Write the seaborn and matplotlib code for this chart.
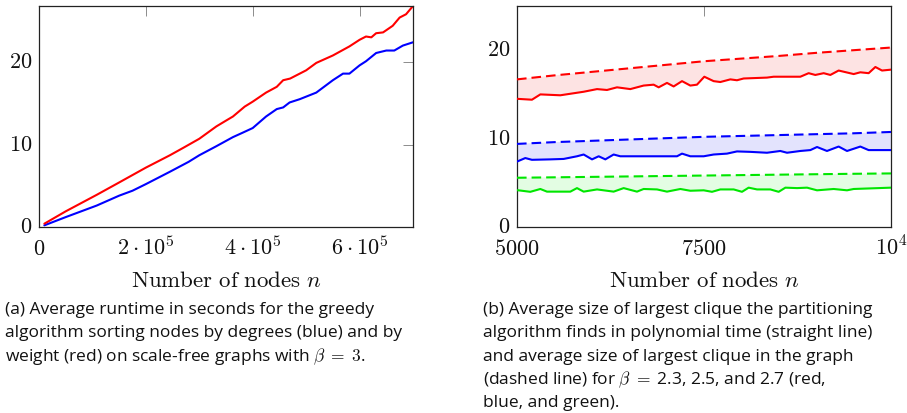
import numpy as np
import pandas as pd
import matplotlib
matplotlib.use("Agg")
import matplotlib.pyplot as plt
import seaborn as sns

# ---------------- data ----------------
# (a) runtime in seconds, n in thousands
a_red_n = [10, 50, 108, 150, 200, 245, 270, 300, 332, 350, 363, 385, 400, 425, 445, 457,
           470, 488, 500, 519, 550, 581, 600, 612, 622, 631, 644, 662, 675, 687, 700]
a_red_t = [0.4, 1.9, 3.9, 5.4, 7.2, 8.7, 9.6, 10.7, 12.2, 12.9, 13.4, 14.6, 15.2, 16.3, 17.0, 17.8,
           18.0, 18.6, 19.0, 19.9, 20.8, 21.9, 22.7, 23.1, 23.0, 23.5, 23.6, 24.4, 25.4, 25.8, 26.8]
a_blue_n = [10, 50, 108, 150, 175, 200, 245, 280, 300, 332, 363, 380, 400, 425, 445, 457,
            469, 488, 519, 550, 569, 581, 600, 612, 631, 650, 665, 681, 700]
a_blue_t = [0.2, 1.2, 2.6, 3.8, 4.4, 5.2, 6.7, 7.9, 8.7, 9.8, 10.9, 11.4, 12.0, 13.4, 14.3, 14.5,
            15.1, 15.5, 16.3, 17.8, 18.6, 18.6, 19.6, 20.1, 21.1, 21.4, 21.4, 22.0, 22.4]
a_xticks = [0, 200000, 400000, 600000]
a_xticklabels = [r"$0$", r"$2\cdot10^5$", r"$4\cdot10^5$", r"$6\cdot10^5$"]
a_yticks = [0, 10, 20]

# (b) clique sizes
b_red_n = [5000, 5200, 5312, 5579, 5891, 6070, 6203, 6337, 6515, 6693, 6827, 6894, 7005, 7094,
           7206, 7317, 7406, 7504, 7629, 7718, 7852, 7941, 8030, 8342, 8431, 8788, 8899, 8988,
           9100, 9189, 9300, 9501, 9590, 9701, 9791, 9880, 10000]
b_red_solid = [14.5, 14.4, 15.0, 14.9, 15.3, 15.6, 15.5, 15.8, 15.6, 16.0, 16.1, 15.8, 16.3, 15.9,
               16.5, 16.0, 16.1, 17.0, 16.5, 16.4, 16.7, 16.6, 16.8, 16.9, 17.0, 17.0, 17.4, 17.2,
               17.4, 17.2, 17.7, 17.3, 17.5, 17.4, 18.1, 17.7, 17.8]
b_blue_n = [5000, 5111, 5200, 5446, 5624, 5802, 5891, 6003, 6092, 6181, 6292, 6381, 7139, 7206,
            7317, 7496, 7629, 7807, 7941, 8119, 8342, 8520, 8610, 8788, 8922, 9011, 9144, 9300,
            9412, 9590, 9701, 10000]
b_blue_solid = [7.4, 7.8, 7.6, 7.65, 7.7, 8.0, 8.2, 7.65, 8.0, 7.65, 8.2, 8.0, 8.0, 8.3,
                8.0, 8.0, 8.2, 8.3, 8.55, 8.5, 8.4, 8.6, 8.4, 8.6, 8.7, 9.05, 8.6, 9.1,
                8.6, 9.1, 8.7, 8.7]
b_green_n = [5000, 5178, 5312, 5401, 5713, 5802, 5891, 6070, 6292, 6426, 6604, 6693, 6872, 7005,
             7184, 7317, 7496, 7607, 7718, 7897, 8008, 8097, 8209, 8387, 8498, 8588, 8744, 8878,
             9011, 9234, 9412, 9501, 10000]
b_green_solid = [4.17, 3.98, 4.3, 4.0, 4.0, 4.4, 4.0, 4.25, 4.0, 4.4, 4.0, 4.3, 4.25, 4.0,
                 4.3, 4.1, 4.15, 3.98, 4.25, 4.25, 3.98, 4.45, 4.25, 4.25, 3.98, 4.45, 4.4, 4.45,
                 4.15, 4.3, 4.15, 4.3, 4.45]
b_dash_n = [5000, 5500, 6000, 6500, 7000, 7500, 8000, 8500, 9000, 9500, 10000]
b_red_dash = [16.7, 17.15, 17.55, 17.95, 18.35, 18.75, 19.05, 19.35, 19.7, 20.0, 20.3]
b_blue_dash = [9.4, 9.6, 9.75, 9.9, 10.05, 10.2, 10.3, 10.4, 10.5, 10.6, 10.75]
b_green_dash = [5.57, 5.62, 5.67, 5.72, 5.77, 5.82, 5.87, 5.92, 5.97, 6.02, 6.06]
b_xticks = [5000, 7500, 10000]
b_xticklabels = [r"$5000$", r"$7500$", r"$10^4$"]
b_yticks = [0, 10, 20]

caption_a = ["(a) Average runtime in seconds for the greedy",
             "algorithm sorting nodes by degrees (blue) and by",
             r"weight (red) on scale-free graphs with $\beta\;=\;3$."]
caption_b = ["(b) Average size of largest clique the partitioning",
             "algorithm finds in polynomial time (straight line)",
             "and average size of largest clique in the graph",
             r"(dashed line) for $\beta\;=\;$2.3, 2.5, and 2.7 (red,",
             "blue, and green)."]

# ---------------- style ----------------
sns.set_theme(style="white")
plt.rcParams["mathtext.fontset"] = "cm"
plt.rcParams["font.family"] = ["DejaVu Serif"]

RED, BLUE, GREEN = "#ff0000", "#0000ff", "#00e600"
LW = 1.5
FS_TICK = 16
FS_LAB = 16.5

W, H = 907, 413
fig = plt.figure(figsize=(W / 100, H / 100), dpi=100)

def px_axes(x0, x1, y0, y1):
    return fig.add_axes([x0 / W, 1 - y1 / H, (x1 - x0) / W, (y1 - y0) / H])

axA = px_axes(39, 413, 6, 227)
axB = px_axes(517, 891, 6, 227)

# panel (a)
dfa_r = pd.DataFrame({"n": np.array(a_red_n) * 1000, "t": a_red_t})
dfa_b = pd.DataFrame({"n": np.array(a_blue_n) * 1000, "t": a_blue_t})
sns.lineplot(data=dfa_b, x="n", y="t", color=BLUE, lw=LW, ax=axA, solid_joinstyle="round")
sns.lineplot(data=dfa_r, x="n", y="t", color=RED, lw=LW, ax=axA, solid_joinstyle="round")
axA.set_xlim(0, 700000)
axA.set_ylim(0, 26.8)
axA.set_xticks(a_xticks)
axA.set_xticklabels(a_xticklabels)
axA.set_yticks(a_yticks)
axA.set_yticklabels([f"${v}$" for v in a_yticks])

# panel (b)
series = [(b_red_n, b_red_solid, b_red_dash, RED, "#fde3e3"),
          (b_blue_n, b_blue_solid, b_blue_dash, BLUE, "#e3e3fd"),
          (b_green_n, b_green_solid, b_green_dash, GREEN, "#e3fde3")]
for xs, ys, yd, col, fcol in series:
    poly_x = np.r_[np.array(xs, float), np.array(b_dash_n, float)[::-1]]
    poly_y = np.r_[np.array(ys, float), np.array(yd, float)[::-1]]
    axB.fill(poly_x, poly_y, color=fcol, lw=0, zorder=1)
    sns.lineplot(x=xs, y=ys, color=col, lw=LW, ax=axB, zorder=3, solid_joinstyle="round")
    sns.lineplot(x=b_dash_n, y=yd, color=col, lw=LW, ax=axB, zorder=3,
                 linestyle=(0, (4.6, 2.4)))
axB.set_xlim(5000, 10000)
axB.set_ylim(0, 25)
axB.set_xticks(b_xticks)
axB.set_xticklabels(b_xticklabels)
axB.set_yticks(b_yticks)
axB.set_yticklabels([f"${v}$" for v in b_yticks])

for ax in (axA, axB):
    ax.set_xlabel("")
    ax.set_ylabel("")
    for s in ax.spines.values():
        s.set_color("#222222")
        s.set_linewidth(0.9)
    ax.tick_params(axis="both", which="major", direction="in", length=7.5, width=0.7,
                   color="#8c8c8c", top=True, right=True, labelsize=FS_TICK,
                   labelcolor="#111111")
    ax.tick_params(axis="y", pad=5)
    ax.tick_params(axis="x", pad=20.2)
    for lab in ax.get_xticklabels():
        lab.set_verticalalignment("baseline")
    for lab in ax.get_yticklabels():
        lab.set_verticalalignment("center")
    ax.text(0.5, -(287 - 227) / 221, r"$\mathrm{Number\ of\ nodes}\ n$",
            transform=ax.transAxes, ha="center", va="baseline", fontsize=FS_LAB,
            color="#111111")

cap_font = ["Open Sans", "DejaVu Sans"]
for i, line in enumerate(caption_a):
    fig.text(5 / W, 1 - (314 + i * 23.3) / H, line, fontsize=12.5, family=cap_font,
             va="baseline", ha="left", color="#111111")
for i, line in enumerate(caption_b):
    fig.text(483 / W, 1 - (314 + i * 23.3) / H, line, fontsize=12.5, family=cap_font,
             va="baseline", ha="left", color="#111111")

fig.savefig("out.png", dpi=100)
